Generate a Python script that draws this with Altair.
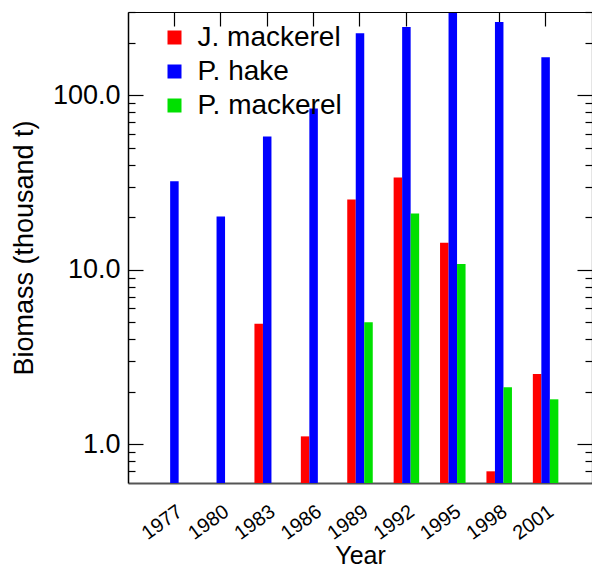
import altair as alt
import pandas as pd

years = ["1977", "1980", "1983", "1986", "1989", "1992", "1995", "1998", "2001"]
jack_mackerel = [None, None, 4.9, 1.11, 25.3, 33.8, 14.3, 0.70, 2.53]
pacific_hake = [32.2, 20.2, 58.1, 84.0, 227.0, 246.0, 296.0, 263.0, 165.0]
pacific_mackerel = [None, None, None, None, 5.0, 21.0, 10.8, 2.12, 1.81]

series = ["J. mackerel", "P. hake", "P. mackerel"]
colors = ["#ff0000", "#0000ff", "#00e000"]

major_ticks = [1, 10, 100]
minor_ticks = [0.7, 0.8, 0.9, 2, 3, 4, 5, 6, 7, 8, 9,
               20, 30, 40, 50, 60, 70, 80, 90, 200, 300]
y_labels = [1, 10, 100]

rows = []
for name, vals in zip(series, [jack_mackerel, pacific_hake, pacific_mackerel]):
    for yr, v in zip(years, vals):
        if v is not None:
            rows.append({"year": yr, "series": name, "value": v})
df = pd.DataFrame(rows)

W, H = 464, 471
FONT = "Liberation Sans"

xscale = alt.Scale(domain=years, paddingInner=0.45, paddingOuter=0.725)
yscale = alt.Scale(type="log", domain=[0.6, 300], nice=False)

base = alt.Chart(df)

bars = base.mark_bar().encode(
    x=alt.X("year:N", scale=xscale,
            axis=alt.Axis(orient="bottom", title="Year", labelAngle=-36,
                          ticks=False, domainColor="#555555", domainWidth=2,
                          labelFontSize=20, labelColor="black", labelPadding=18,
                          titleFontSize=25, titleFontWeight="normal",
                          titleColor="black", titleBaseline="alphabetic",
                          titleY=80, grid=False)),
    xOffset=alt.XOffset("series:N", sort=series,
                        scale=alt.Scale(domain=series, paddingInner=0, paddingOuter=0)),
    y=alt.Y("value:Q", scale=yscale,
            axis=alt.Axis(orient="left", values=y_labels, format=".1f",
                          ticks=False, domainColor="black", domainWidth=1.5,
                          labelFontSize=27, labelColor="black", labelPadding=8,
                          title="Biomass (thousand t)", titleFontSize=27,
                          titleFontWeight="normal", titleColor="black",
                          titlePadding=14, grid=False)),
    y2=alt.datum(0.6),
    color=alt.Color("series:N",
                    scale=alt.Scale(domain=series, range=colors),
                    legend=alt.Legend(title=None, orient="none", legendX=32.5,
                                      legendY=11.5, symbolType="square",
                                      symbolSize=196, symbolStrokeWidth=0,
                                      labelFontSize=28, labelColor="black",
                                      labelOffset=9, rowPadding=6, padding=0)),
)


def tick_axis(orient, offset, values, size, domain=False):
    return alt.Axis(orient=orient, offset=offset, values=values, labels=False,
                    title=None, grid=False, domain=domain, domainColor="black",
                    domainWidth=1.2, ticks=True, tickSize=size,
                    tickColor="black", tickWidth=1.2)


def ghost():
    return base.mark_point(opacity=0, size=0)


# top x ticks (inward) + left minor y ticks (inward)
layer_a = ghost().encode(
    x=alt.X("year:N", scale=xscale,
            axis=alt.Axis(orient="bottom", offset=-H, labels=False, title=None,
                          grid=False, domain=True, domainColor="black",
                          domainWidth=1.2, ticks=True, tickSize=14,
                          tickColor="black", tickWidth=1.2)),
    y=alt.Y("value:Q", scale=yscale, axis=tick_axis("right", -W, minor_ticks, 7)),
)
# left major y ticks (inward)
layer_b = ghost().encode(
    x=alt.X("year:N", scale=xscale, axis=None),
    y=alt.Y("value:Q", scale=yscale, axis=tick_axis("right", -W, major_ticks, 15)),
)
# right minor y ticks (inward) + right border
layer_c = ghost().encode(
    x=alt.X("year:N", scale=xscale, axis=None),
    y=alt.Y("value:Q", scale=yscale,
            axis=tick_axis("left", -W, minor_ticks, 7, domain=True)),
)
# right major y ticks (inward)
layer_d = ghost().encode(
    x=alt.X("year:N", scale=xscale, axis=None),
    y=alt.Y("value:Q", scale=yscale, axis=tick_axis("left", -W, major_ticks, 15)),
)

chart = (
    alt.layer(bars, layer_a, layer_b, layer_c, layer_d)
    .resolve_scale(x="shared", y="shared")
    .resolve_axis(x="independent", y="independent")
    .properties(width=W, height=H,
                autosize=alt.AutoSizeParams(type="none"),
                padding={"left": 120, "top": 4, "right": 0, "bottom": 85})
    .configure(font=FONT)
    .configure_view(stroke=None)
)

chart.save("out.html", embed_options={"renderer": "svg", "actions": False})
